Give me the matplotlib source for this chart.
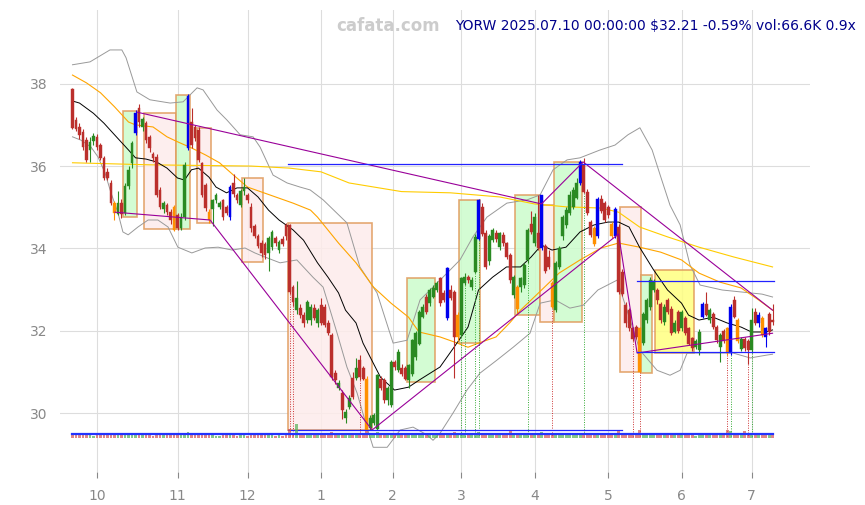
import numpy as np
import matplotlib
matplotlib.use('Agg')
from matplotlib import pyplot as plt
from matplotlib.patches import Rectangle

# daily bars, index 0 = 2024-09-19 ... 200 = 2025-07-10
opens = [37.87, 37.12, 36.95, 36.83, 36.63, 36.38, 36.61, 36.70, 36.50, 36.20,
         35.85, 35.60, 35.10, 34.84, 35.10, 34.86, 35.52, 36.07, 36.80, 37.40,
         36.95, 37.05, 36.70, 36.30, 36.22, 35.42, 34.95, 35.05, 34.88, 35.00,
         34.80, 34.50, 34.76, 36.45, 37.07, 36.95, 36.88, 36.07, 35.54, 34.88,
         34.95, 35.17, 35.00, 35.17, 35.00, 34.76, 35.60, 35.30, 35.05, 35.40,
         35.30, 35.00, 34.55, 34.30, 34.13, 34.10, 33.88, 34.03, 34.25, 33.95,
         34.23, 34.58, 34.57, 33.06, 32.50, 32.55, 32.38, 32.26, 32.26, 32.55,
         32.20, 32.62, 32.58, 32.18, 31.90, 30.97, 30.60, 30.50, 29.88, 30.15,
         30.85, 30.85, 31.30, 31.09, 30.84, 29.65, 29.75, 29.62, 30.84, 30.80,
         30.32, 30.19, 31.25, 31.04, 31.09, 31.09, 30.80, 30.96, 31.37, 31.69,
         32.34, 32.83, 32.67, 32.83, 32.99, 33.27, 32.91, 32.30, 32.99, 32.95,
         31.85, 31.90, 33.15, 33.31, 33.07, 33.43, 34.24, 35.00, 34.37, 33.70,
         34.20, 34.37, 34.04, 34.33, 34.12, 33.84, 32.87, 33.07, 33.07, 33.11,
         33.72, 34.60, 34.13, 34.37, 34.00, 34.05, 33.80, 33.15, 32.50, 33.55,
         34.29, 34.57, 34.85, 35.00, 35.22, 35.60, 36.03, 35.38, 34.65, 34.50,
         34.30, 35.20, 35.10, 35.00, 34.60, 34.30, 34.53, 33.43, 32.62, 32.50,
         32.06, 32.09, 32.06, 31.70, 32.26, 32.58, 33.00, 32.99, 32.66, 32.21,
         32.74, 32.54, 31.98, 32.45, 32.06, 32.30, 32.06, 31.82, 31.60, 31.53,
         32.34, 32.66, 32.26, 32.40, 32.10, 31.60, 32.00, 32.06, 31.45, 32.74,
         32.25, 31.55, 31.80, 31.75, 31.53, 32.45, 32.18, 32.30, 32.06, 31.98,
         32.26]
highs = [37.90, 37.20, 37.05, 36.90, 36.70, 36.70, 36.80, 36.78, 36.55, 36.25,
         35.95, 35.65, 35.15, 35.40, 35.20, 35.60, 36.00, 36.60, 37.35, 37.50,
         37.20, 37.10, 36.75, 36.35, 36.30, 35.50, 35.15, 35.10, 34.95, 35.05,
         34.85, 34.85, 36.10, 37.75, 37.40, 37.00, 36.95, 36.10, 35.60, 34.95,
         35.20, 35.35, 35.15, 35.20, 35.05, 35.55, 35.80, 35.35, 35.45, 35.70,
         35.35, 35.10, 34.60, 34.35, 34.20, 34.15, 34.30, 34.45, 34.30, 34.20,
         34.30, 34.62, 34.60, 33.10, 33.20, 32.65, 32.45, 32.75, 32.65, 32.65,
         32.55, 32.80, 32.65, 32.25, 31.95, 31.05, 30.80, 30.55, 30.10, 30.45,
         31.00, 31.35, 31.40, 31.15, 30.90, 29.95, 30.00, 30.95, 30.90, 30.85,
         30.65, 31.30, 31.30, 31.55, 31.20, 31.15, 31.20, 31.80, 32.00, 32.50,
         32.65, 32.90, 33.05, 33.10, 33.20, 33.30, 33.00, 33.55, 33.10, 33.00,
         32.45, 33.30, 33.40, 33.35, 33.30, 34.35, 35.20, 35.10, 34.45, 34.35,
         34.50, 34.45, 34.40, 34.40, 34.15, 33.90, 33.35, 33.10, 33.30, 33.65,
         34.50, 34.90, 34.85, 35.30, 35.30, 34.10, 33.95, 33.20, 33.70, 34.05,
         34.80, 35.00, 35.40, 35.50, 35.70, 36.15, 36.20, 35.45, 34.70, 34.55,
         35.25, 35.30, 35.15, 35.05, 34.65, 35.00, 34.60, 33.50, 32.70, 32.55,
         32.10, 32.15, 32.10, 32.45, 32.80, 33.30, 33.25, 33.05, 32.70, 32.65,
         32.80, 32.60, 32.25, 32.50, 32.50, 32.35, 32.10, 31.85, 31.80, 32.05,
         32.70, 32.95, 32.55, 32.45, 32.15, 31.95, 32.05, 32.10, 32.65, 32.85,
         32.30, 31.85, 31.85, 31.80, 32.55, 32.55, 32.45, 32.35, 32.10, 32.45,
         32.65]
lows = [36.90, 36.85, 36.65, 36.40, 36.10, 36.10, 36.50, 36.40, 36.15, 35.65,
        35.65, 35.05, 34.70, 34.80, 34.75, 34.80, 35.45, 35.95, 36.75, 36.95,
        36.85, 36.55, 36.35, 36.10, 35.25, 34.95, 34.85, 34.80, 34.60, 34.42,
        34.45, 34.45, 34.70, 36.40, 36.45, 36.60, 36.10, 35.25, 34.90, 34.62,
        34.55, 35.10, 34.95, 34.70, 34.80, 34.70, 35.25, 35.10, 35.00, 35.30,
        35.10, 34.40, 34.25, 34.00, 33.80, 33.75, 33.45, 33.95, 34.05, 33.90,
        34.05, 34.20, 32.90, 32.60, 32.40, 32.30, 32.10, 32.20, 32.15, 32.25,
        32.10, 32.15, 32.10, 31.90, 30.80, 30.70, 30.55, 29.85, 29.75, 30.10,
        30.35, 30.80, 30.80, 30.80, 29.58, 29.58, 29.70, 29.58, 30.55, 30.25,
        30.20, 30.15, 31.05, 31.00, 30.90, 30.80, 30.60, 30.90, 31.30, 31.65,
        32.30, 32.40, 32.60, 32.80, 32.95, 32.60, 32.70, 32.25, 32.75, 30.85,
        31.75, 31.85, 33.10, 33.15, 33.00, 33.40, 34.20, 34.30, 33.50, 33.60,
        34.15, 34.15, 33.95, 34.05, 33.75, 33.15, 32.80, 32.40, 32.95, 33.05,
        33.65, 34.35, 34.05, 33.95, 33.95, 33.40, 33.50, 32.55, 32.45, 33.50,
        34.20, 34.50, 34.80, 34.95, 35.20, 35.55, 35.35, 34.80, 34.28, 34.05,
        34.25, 34.85, 34.65, 34.75, 34.25, 34.25, 32.90, 32.85, 32.10, 32.00,
        31.75, 31.80, 31.00, 31.65, 32.20, 32.50, 32.95, 32.65, 32.20, 32.15,
        32.40, 31.90, 31.95, 31.95, 32.00, 31.90, 31.65, 31.50, 31.55, 31.40,
        32.30, 32.35, 32.20, 32.05, 31.70, 31.25, 31.70, 31.40, 31.40, 32.30,
        31.70, 31.50, 31.50, 31.20, 31.45, 32.15, 32.10, 31.85, 31.60, 31.90,
        32.15]
closes = [36.93, 36.90, 36.76, 36.46, 36.15, 36.58, 36.74, 36.46, 36.20, 35.70,
          35.70, 35.10, 34.86, 35.10, 34.83, 35.52, 35.90, 36.55, 37.30, 37.07,
          37.15, 36.63, 36.43, 36.20, 35.30, 35.00, 35.10, 34.88, 34.68, 34.45,
          34.50, 34.77, 36.03, 37.70, 36.50, 36.68, 36.15, 35.30, 34.98, 34.69,
          35.17, 35.30, 35.10, 34.76, 34.86, 35.50, 35.33, 35.17, 35.40, 35.50,
          35.17, 34.50, 34.30, 34.05, 33.89, 33.84, 34.25, 34.40, 34.13, 34.15,
          34.10, 34.30, 32.94, 32.70, 32.80, 32.38, 32.20, 32.70, 32.58, 32.30,
          32.50, 32.20, 32.14, 31.94, 30.87, 30.80, 30.73, 30.07, 30.02, 30.37,
          30.39, 31.10, 30.87, 30.84, 29.60, 29.87, 29.95, 30.92, 30.60, 30.32,
          30.60, 31.25, 31.13, 31.49, 30.96, 30.84, 31.17, 31.77, 31.94, 32.46,
          32.58, 32.46, 32.99, 33.03, 33.15, 32.67, 32.75, 33.52, 32.79, 31.85,
          32.38, 33.27, 33.31, 33.23, 33.23, 34.28, 35.18, 34.35, 33.56, 34.30,
          34.45, 34.24, 34.37, 34.12, 33.80, 33.23, 33.31, 32.54, 33.27, 33.60,
          34.45, 34.40, 34.77, 34.00, 35.30, 33.45, 33.55, 32.58, 33.64, 34.00,
          34.77, 34.93, 35.30, 35.42, 35.58, 36.10, 35.38, 34.85, 34.32, 34.10,
          35.20, 34.90, 34.70, 34.80, 34.30, 34.95, 32.95, 32.90, 32.18, 32.06,
          31.80, 31.85, 31.00, 32.40, 32.74, 33.23, 33.20, 32.74, 32.26, 32.58,
          32.45, 31.94, 32.20, 32.00, 32.45, 31.94, 31.69, 31.57, 31.75, 31.98,
          32.66, 32.38, 32.50, 32.10, 31.77, 31.90, 31.75, 31.45, 32.58, 32.34,
          31.75, 31.80, 31.57, 31.53, 32.26, 32.20, 32.38, 31.90, 31.85, 32.40,
          32.21]
marks = ("rrrrrggrrr" "rrogrgggbr" "grrrrrgrro" "rggbrrrrro" "gggrrbrrgg"
         "rrrrrrggrg" "rrrrgrrggr" "grrrrrgrgg" "rgrrogggrr" "ggrgrrgggg"
         "grgggrrbrr" "oggrggbrrg" "grgrrrgogg" "grgrbrrogg" "gggggbrrro"
         "brrrobrrrr" "rroggggrrg" "rrgrgrrrgg" "brgrrgrobr" "ogrrgrbobr" "r")
volumes = [90, 75, 60, 70, 85, 55, 50, 65, 70, 80,
           55, 75, 95, 70, 60, 85, 70, 80, 110, 75,
           60, 70, 55, 50, 90, 80, 55, 60, 65, 95,
           70, 55, 100, 120, 85, 60, 70, 80, 85, 90,
           65, 50, 45, 70, 55, 95, 60, 50, 55, 60,
           50, 75, 65, 60, 70, 65, 80, 70, 45, 55,
           50, 60, 180, 110, 300, 90, 75, 70, 60, 65,
           55, 70, 65, 60, 130, 85, 60, 95, 70, 75,
           90, 85, 80, 70, 140, 75, 60, 120, 70, 80,
           65, 100, 60, 70, 55, 65, 70, 85, 80, 90,
           75, 60, 70, 65, 60, 80, 55, 110, 60, 120,
           95, 110, 65, 55, 60, 100, 130, 90, 85, 70,
           60, 55, 65, 60, 70, 140, 80, 95, 65, 70,
           85, 70, 75, 80, 120, 85, 70, 100, 95, 80,
           85, 75, 80, 70, 85, 110, 90, 85, 80, 75,
           95, 70, 65, 60, 80, 100, 150, 90, 85, 80,
           75, 70, 160, 100, 85, 90, 70, 65, 75, 60,
           65, 80, 55, 65, 60, 70, 65, 75, 50, 70,
           90, 70, 60, 65, 70, 60, 65, 170, 150, 80,
           90, 70, 140, 85, 110, 70, 85, 75, 80, 90,
           66.6]

month_pos = [7, 30, 50, 71, 91.5, 111, 132, 153, 174, 194]
month_labels = ['10', '11', '12', '1', '2', '3', '4', '5', '6', '7']

# moving averages / bands (bar index, price)
ma20 = [(0, 37.58), (2, 37.53), (6, 37.28), (9, 37.04), (12, 36.76), (16, 36.39), (18, 36.20),
        (21, 36.17), (24, 36.10), (27, 35.95), (30, 35.71), (32, 35.66), (34, 35.91), (36, 35.95),
        (39, 35.73), (41, 35.49), (44, 35.35), (47, 35.47), (50, 35.47), (53, 35.25), (56, 34.93),
        (59, 34.69), (63, 34.45), (66, 34.20), (70, 33.65), (73, 33.30), (76, 32.92), (78, 32.50),
        (81, 32.19), (83, 31.70), (88, 30.87), (92, 30.56), (96, 30.63), (99, 30.80), (105, 31.12),
        (109, 31.60), (113, 32.09), (116, 32.99), (120, 33.30), (124, 33.55), (128, 33.55),
        (131, 33.79), (134, 34.08), (137, 33.96), (141, 34.03), (145, 34.40), (149, 34.57),
        (153, 34.64), (156, 34.64), (159, 34.52), (162, 34.03), (166, 33.48), (170, 32.99),
        (174, 32.67), (176, 32.38), (179, 32.26), (183, 32.33), (187, 32.19), (191, 32.09),
        (194, 31.97), (198, 31.97), (200, 32.02)]
ma50 = [(0, 38.21), (4, 38.02), (8, 37.78), (12, 37.44), (16, 37.07), (18, 37.00), (23, 36.95),
        (27, 36.71), (30, 36.59), (34, 36.44), (38, 36.27), (42, 36.08), (46, 35.78), (50, 35.49),
        (54, 35.37), (58, 35.25), (63, 35.10), (68, 34.93), (70, 34.76), (76, 34.13), (81, 33.65),
        (86, 33.06), (91, 32.67), (96, 32.33), (99, 31.97), (105, 31.85), (109, 31.73),
        (113, 31.60), (116, 31.70), (121, 31.85), (125, 32.20), (128, 32.50), (134, 32.99),
        (139, 33.40), (145, 33.72), (151, 34.01), (156, 34.13), (162, 34.03), (168, 33.91),
        (174, 33.72), (179, 33.40), (185, 33.18), (191, 33.04), (196, 32.75), (200, 32.50)]
ma200 = [(0, 36.08), (22, 36.03), (51, 36.00), (62, 35.95), (71, 35.86), (79, 35.59),
         (94, 35.38), (108, 35.35), (122, 35.25), (132, 35.08), (141, 35.01), (151, 34.98),
         (156, 34.88), (162, 34.52), (170, 34.28), (179, 34.03), (189, 33.79), (200, 33.55)]
band_up = [(0, 38.46), (5, 38.53), (10.7, 38.82), (14.1, 38.82), (15.3, 38.63), (18.4, 37.80),
           (22.1, 37.61), (27.9, 37.53), (31.6, 37.56), (35.6, 37.90), (37.3, 37.85),
           (41.3, 37.36), (44.1, 37.12), (47.9, 36.76), (51.6, 36.71), (53.6, 36.46),
           (57.3, 35.78), (61.3, 35.59), (65, 35.49), (67.9, 35.42), (71.6, 35.18),
           (78.4, 34.62), (82.1, 33.55), (87, 32.92), (91.6, 31.70), (95.6, 31.77),
           (99.3, 32.75), (103, 33.06), (107, 33.40), (110.7, 33.72), (114.4, 34.28),
           (118.4, 34.76), (124.1, 35.10), (129.9, 35.18), (133.6, 35.30), (137.3, 35.91),
           (141.3, 36.15), (145, 36.20), (150.7, 36.39), (155, 36.51), (158.7, 36.76),
           (162.1, 36.93), (165.6, 36.39), (167.9, 35.78), (170.7, 35.05), (173.6, 34.57),
           (176.4, 33.60), (179.3, 33.11), (185.6, 32.99), (191.3, 32.94), (197, 32.89),
           (200, 32.82)]
band_low = [(0, 36.71), (2.4, 36.63), (5.3, 36.46), (7.3, 36.22), (9.3, 35.83), (11, 35.35),
            (13, 34.86), (14.4, 34.40), (15.9, 34.33), (18.7, 34.52), (21.6, 34.69),
            (24.4, 34.69), (27.3, 34.52), (30.1, 34.03), (34.1, 33.89), (37.9, 34.01),
            (41.6, 34.03), (45.6, 33.96), (49.3, 34.01), (52.1, 33.89), (55, 33.79),
            (59.3, 33.65), (64.1, 33.72), (68.7, 33.30), (71.6, 33.06), (75.6, 31.94),
            (78.4, 31.12), (81.3, 30.49), (84.1, 29.66), (85.9, 29.17), (89.9, 29.17),
            (93.6, 29.59), (97.3, 29.66), (101.3, 29.47), (103, 29.34), (105, 29.51),
            (108.7, 30.00), (112.7, 30.56), (116.4, 30.97), (121.3, 31.29), (125.9, 31.60),
            (130.7, 31.94), (133.6, 32.67), (137.9, 32.75), (142.1, 32.55), (145.9, 32.62),
            (150.1, 32.99), (155.6, 33.23), (158.4, 32.50), (162.1, 31.53), (167, 31.04),
            (170.7, 30.92), (173.6, 31.04), (175.6, 31.46), (179.3, 31.46), (184.1, 31.46),
            (188.7, 31.46), (193.6, 31.34), (198.4, 31.41), (200, 31.43)]

# trend lines
trend_upper = [(18.4, 37.31), (134, 35.08), (145.9, 36.10), (200, 32.50)]
trend_lower = [(12.1, 34.88), (39.3, 34.69), (85.6, 29.59), (156, 34.35), (161.3, 31.46), (200, 31.94)]

# horizontal levels: start, end, price
levels = [(61.5, 157, 36.05), (61.5, 157, 29.59), (161.2, 200.5, 33.22), (161.2, 200.5, 31.48)]

# boxes: first bar, last bar, low, high, kind
boxes = [(15, 18, 34.76, 37.34, 'g'), (21, 29, 34.46, 37.28, 'p'), (30, 33, 34.46, 37.73, 'g'),
         (36, 39, 34.62, 36.92, 'p'), (49, 54, 33.67, 35.70, 'p'), (62, 85, 29.59, 34.62, 'p'),
         (96, 103, 30.76, 33.27, 'g'), (111, 116, 31.71, 35.18, 'g'), (127, 133, 32.38, 35.30, 'g'),
         (134, 137, 32.22, 35.05, 'p'), (138, 145, 32.22, 36.11, 'g'), (157, 162, 31.00, 35.01, 'p'),
         (163, 165, 30.98, 33.35, 'g'), (167, 177, 31.45, 33.47, 'y')]

# signal bars with dotted drop lines
signals_red = [62, 63, 82, 137, 160, 162, 187, 193]
signals_green = [111, 112, 115, 116, 130, 146, 188, 194]

col = {'r': '#bb2f2c', 'g': '#2a8a22', 'b': '#0000ee', 'o': '#ff9000'}
box_fill = {'g': '#ccfccc', 'p': '#fdeceb', 'y': '#ffff80'}

n = len(closes)
x = np.arange(n)

fig = plt.figure(figsize=(8.65, 5.05), dpi=100)
ax = fig.add_axes([60 / 865, 33 / 505, 750 / 865, 462 / 505])
ax.set_xlim(-3.57, 210.7)
ax.set_ylim(28.57, 39.79)

for s in ax.spines.values():
    s.set_visible(False)
ax.grid(True, color='#dddddd', lw=0.8)
ax.set_axisbelow(True)

for b0, b1, lo, hi, k in boxes:
    ax.add_patch(Rectangle((b0 - 0.5, lo), b1 - b0 + 1, hi - lo, facecolor=box_fill[k],
                           edgecolor='#e09a5a', lw=1.2, alpha=0.85, zorder=1))

def line(pts, **kw):
    ax.plot([p[0] for p in pts], [p[1] for p in pts], **kw)

line(band_up, color='#999999', lw=0.7, zorder=2)
line(band_low, color='#999999', lw=0.7, zorder=2)
line(ma200, color='#ffcc00', lw=0.8, zorder=2)
line(ma50, color='#ffa500', lw=0.8, zorder=2)
line(ma20, color='black', lw=0.7, zorder=2)
line(trend_upper, color='#990099', lw=0.8, zorder=4)
line(trend_lower, color='#990099', lw=0.8, zorder=4)
for a, b, p in levels:
    ax.plot([a, b], [p, p], color='#2222ff', lw=0.9, zorder=4)

for i in signals_red:
    ax.plot([i, i], [lows[i], 29.42], color='#cc3333', lw=0.7, ls=(0, (1, 1.5)), zorder=2)
for i in signals_green:
    ax.plot([i, i], [lows[i], 29.42], color='#33aa33', lw=0.7, ls=(0, (1, 1.5)), zorder=2)

colors = [col[m] for m in marks]
ax.vlines(x, lows, highs, colors=colors, lw=0.8, zorder=3)
bottoms = np.minimum(opens, closes)
heights = np.maximum(np.abs(np.array(closes) - np.array(opens)), 0.03)
ax.bar(x, heights, bottom=bottoms, width=0.85, color=colors, edgecolor=colors, lw=0.3, zorder=3)

ax.set_xticks(month_pos)
ax.set_xticklabels(month_labels)
ax.set_yticks([30, 32, 34, 36, 38])
ax.tick_params(axis='x', colors='#888888', labelsize=10, length=4, pad=8)
ax.tick_params(axis='y', colors='#888888', labelsize=10, length=0, pad=9,
               labelleft=True, labelright=True)

# volume on its own scale at the bottom
ax2 = ax.twinx()
ax2.set_ylim(-714, 8990)
vcol = ['#d45555' if c < o else '#55b055' for o, c in zip(opens, closes)]
ax2.bar(x, volumes, width=0.85, color=vcol, alpha=0.7, zorder=1)
ax2.plot([0, n - 1], [np.mean(volumes), np.mean(volumes)], color='#2233ff', lw=1.6)
ax2.set_yticks([])
for s in ax2.spines.values():
    s.set_visible(False)
ax2.set_xlim(-3.57, 210.7)

fig.text(388 / 865, 1 - 26 / 505, 'cafata.com', ha='center', va='center',
         fontsize=12, fontweight='bold', color='#cccccc')
fig.text(455 / 865, 1 - 26 / 505, 'YORW 2025.07.10 00:00:00 $32.21 -0.59% vol:66.6K 0.9x',
         ha='left', va='center', fontsize=10, color='#00008b')

fig.savefig('out.png', dpi=100)
